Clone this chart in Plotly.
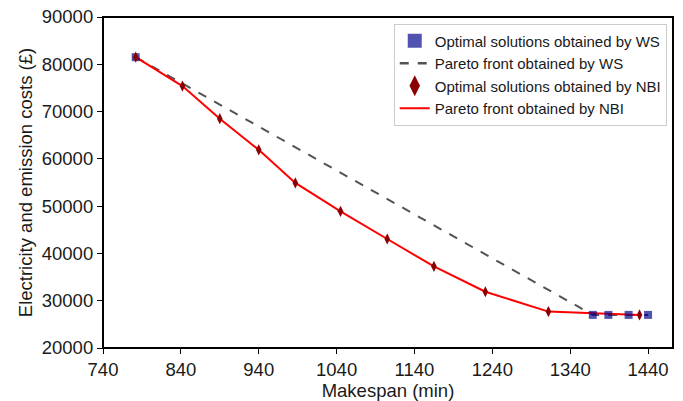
import plotly.graph_objects as go

# Data
ws_x = [782, 1369, 1389, 1415, 1440]
ws_y = [81500, 27000, 27000, 27000, 27000]

nbi_x = [782, 842, 890, 940, 987, 1045, 1105, 1165, 1231, 1312, 1429]
nbi_y = [81500, 75400, 68500, 61900, 54900, 48900, 43050, 37250, 31900, 27700, 27000]

x_ticks = [740, 840, 940, 1040, 1140, 1240, 1340, 1440]
y_ticks = [20000, 30000, 40000, 50000, 60000, 70000, 80000, 90000]

# plot-area frame outline in the hidden unit axes (0..1), not data
FRAME_X = [0, 1, 1, 0, 0]
FRAME_Y = [0, 0, 1, 1, 0]

WS_COLOR = "rgba(0,0,139,0.68)"
NBI_COLOR = "#8B0000"
WS_LINE = "rgba(40,40,40,0.8)"

fig = go.Figure()

# plotted marks (legend drawn by separate legend-only entries with larger markers)
fig.add_trace(go.Scatter(
    x=ws_x, y=ws_y, mode="lines", showlegend=False, hoverinfo="skip",
    line=dict(color=WS_LINE, width=2, dash="dash"),
))
fig.add_trace(go.Scatter(
    x=nbi_x, y=nbi_y, mode="lines", showlegend=False, hoverinfo="skip",
    line=dict(color="red", width=2),
))
fig.add_trace(go.Scatter(
    x=ws_x, y=ws_y, mode="markers", showlegend=False,
    marker=dict(symbol="square", size=8, color=WS_COLOR, line=dict(width=0)),
))
fig.add_trace(go.Scatter(
    x=nbi_x, y=nbi_y, mode="markers", showlegend=False,
    marker=dict(symbol="diamond-tall", size=8, color=NBI_COLOR, line=dict(width=0)),
))

# legend entries
fig.add_trace(go.Scatter(
    x=[None], y=[None], mode="markers", name="Optimal solutions obtained by WS",
    marker=dict(symbol="square", size=14, color=WS_COLOR, line=dict(width=0)),
))
fig.add_trace(go.Scatter(
    x=[None], y=[None], mode="lines", name="Pareto front obtained by WS",
    line=dict(color=WS_LINE, width=2.5, dash="dash"),
))
fig.add_trace(go.Scatter(
    x=[None], y=[None], mode="markers", name="Optimal solutions obtained by NBI",
    marker=dict(symbol="diamond-tall", size=15, color=NBI_COLOR, line=dict(width=0)),
))
fig.add_trace(go.Scatter(
    x=[None], y=[None], mode="lines", name="Pareto front obtained by NBI",
    line=dict(color="red", width=2),
))

# frame of the plot area, drawn on hidden overlay axes so it is always rendered
fig.add_trace(go.Scatter(
    x=FRAME_X, y=FRAME_Y, xaxis="x2", yaxis="y2", mode="lines",
    showlegend=False, hoverinfo="skip",
    line=dict(color="black", width=2),
))

axis_common = dict(
    showline=True, linecolor="black", linewidth=1.2, mirror=True,
    ticks="outside", ticklen=5, tickcolor="black", tickwidth=1.2,
    showgrid=False, zeroline=False, automargin=False,
    ticklabeloverflow="allow",
    tickfont=dict(size=18.5, color="#1a1a1a"), tickformat="d",
)

fig.update_layout(
    width=683, height=401,
    margin=dict(l=103, r=10, t=17, b=53),
    paper_bgcolor="white", plot_bgcolor="white",
    font=dict(family="Liberation Sans, Arial, sans-serif", color="#1a1a1a"),
    xaxis=dict(range=[740, 1472], tickvals=x_ticks,
               title=dict(text="Makespan (min)", font=dict(size=18.5), standoff=2),
               **axis_common),
    yaxis=dict(range=[20000, 90000], tickvals=y_ticks,
               title=dict(text="Electricity and emission costs (£)", font=dict(size=18.5), standoff=4),
               **axis_common),
    xaxis2=dict(overlaying="x", range=[0, 1], visible=False, fixedrange=True),
    yaxis2=dict(overlaying="y", range=[0, 1], visible=False, fixedrange=True),
    legend=dict(
        x=0.989, y=0.98, xanchor="right", yanchor="top",
        bgcolor="white", bordercolor="#cccccc", borderwidth=1,
        font=dict(size=15, color="#1a1a1a"),
        tracegroupgap=0, itemwidth=30,
    ),
    showlegend=True,
)

# remove the page's default body margin so the figure sits at the window's top-left
fig.write_html("out.html",
               config={"displayModeBar": False},
               post_script="document.body.style.margin='0';document.body.style.overflow='hidden';")
